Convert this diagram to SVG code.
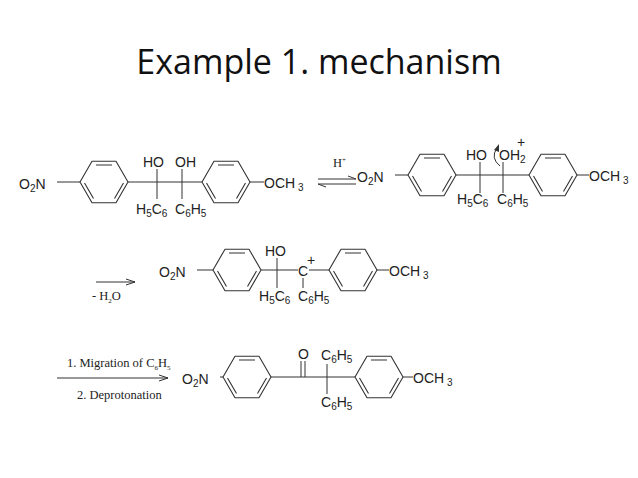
<svg xmlns="http://www.w3.org/2000/svg" xmlns:xlink="http://www.w3.org/1999/xlink" width="638" height="478" viewBox="0 0 638 478">
<style>
.b{stroke:#333;stroke-width:1;fill:none}
.t{font-family:"Liberation Sans",Arial,sans-serif;font-size:14px;fill:#222}
.s{font-size:10px}
.r{font-family:"Liberation Serif","Times New Roman",serif;font-size:12.5px;fill:#222}
</style>
<defs>
<path id="ring" fill="none" stroke="#333" stroke-width="1.1" stroke-linejoin="round" d="M-24,0 L-12,-20.8 L12,-20.8 L24,0 L12,20.8 L-12,20.8 Z M-8,-17 L8,-17 M19.5,1 L10.5,16.5 M-19.5,1 L-10.5,16.5"/>
<marker id="ah" markerWidth="10" markerHeight="8" refX="9" refY="4" orient="auto" markerUnits="userSpaceOnUse"><path d="M0,1 L9,4 L0,7" fill="none" stroke="#333"/></marker>
</defs>
<rect width="638" height="478" fill="#fff"/>
<text x="319" y="74" text-anchor="middle" font-family="'Open Sans',sans-serif" font-size="34" fill="#111">Example 1. mechanism</text>

<g id="mol1">
<text class="t" x="19" y="189">O<tspan class="s" dy="3">2</tspan><tspan dy="-3">N</tspan></text>
<line class="b" x1="57" y1="182" x2="80" y2="182"/>
<use xlink:href="#ring" x="104" y="182"/>
<line class="b" x1="128" y1="182" x2="202" y2="182"/>
<line class="b" x1="157" y1="169" x2="157" y2="199"/>
<line class="b" x1="182" y1="169" x2="182" y2="199"/>
<text class="t" x="143" y="167">HO</text>
<text class="t" x="175" y="167">OH</text>
<text class="t" x="136" y="214">H<tspan class="s" dy="3">5</tspan><tspan dy="-3">C</tspan><tspan class="s" dy="3">6</tspan></text>
<text class="t" x="175" y="214">C<tspan class="s" dy="3">6</tspan><tspan dy="-3">H</tspan><tspan class="s" dy="3">5</tspan></text>
<use xlink:href="#ring" x="226" y="182"/>
<line class="b" x1="250" y1="182" x2="264" y2="182"/>
<text class="t" x="264" y="188">OCH<tspan class="s" dy="3"> 3</tspan></text>
</g>

<g id="connectors">
<line class="b" x1="318" y1="179" x2="356" y2="179"/>
<line class="b" x1="318" y1="184" x2="356" y2="184"/>
<path class="b" d="M318,184 L326,187"/>
<path class="b" d="M356,179 L348,176"/>
<text class="r" x="333" y="167">H<tspan font-size="7" dy="-5">+</tspan></text>
<line class="b" x1="96" y1="282" x2="135" y2="282" marker-end="url(#ah)"/>
<text class="r" x="92" y="300">- H<tspan font-size="7" dy="3">2</tspan><tspan dy="-3">O</tspan></text>
<line class="b" x1="57" y1="378" x2="168" y2="378" marker-end="url(#ah)"/>
<text class="r" x="67" y="367">1. Migration of C<tspan font-size="7" dy="3">6</tspan><tspan dy="-3">H</tspan><tspan font-size="7" dy="3">5</tspan></text>
<text class="r" x="77" y="399">2. Deprotonation</text>
</g>

<g id="mol2">
<text class="t" x="357" y="182">O<tspan class="s" dy="3">2</tspan><tspan dy="-3">N</tspan></text>
<line class="b" x1="395" y1="175" x2="408" y2="175"/>
<use xlink:href="#ring" x="432" y="175"/>
<line class="b" x1="456" y1="175" x2="529" y2="175"/>
<line class="b" x1="480" y1="162" x2="480" y2="193"/>
<line class="b" x1="503" y1="162" x2="503" y2="193"/>
<text class="t" x="466" y="160">HO</text>
<text class="t" x="499" y="160">OH<tspan class="s" dy="3">2</tspan></text>
<text class="t" x="517" y="147" font-size="10">+</text>
<path class="b" d="M500,166 Q490,158 497,148"/>
<path d="M494,150 L499,144 L499,152 Z" fill="#333"/>
<text class="t" x="457" y="204">H<tspan class="s" dy="3">5</tspan><tspan dy="-3">C</tspan><tspan class="s" dy="3">6</tspan></text>
<text class="t" x="497" y="204">C<tspan class="s" dy="3">6</tspan><tspan dy="-3">H</tspan><tspan class="s" dy="3">5</tspan></text>
<use xlink:href="#ring" x="553" y="175"/>
<line class="b" x1="577" y1="175" x2="589" y2="175"/>
<text class="t" x="589" y="181">OCH<tspan class="s" dy="3"> 3</tspan></text>
</g>

<g id="mol3">
<text class="t" x="159" y="277">O<tspan class="s" dy="3">2</tspan><tspan dy="-3">N</tspan></text>
<line class="b" x1="197" y1="270" x2="213" y2="270"/>
<use xlink:href="#ring" x="237" y="270"/>
<line class="b" x1="261" y1="270" x2="298" y2="270"/>
<line class="b" x1="309" y1="270" x2="329" y2="270"/>
<line class="b" x1="277" y1="258" x2="277" y2="288"/>
<line class="b" x1="303" y1="278" x2="303" y2="288"/>
<text class="t" x="265" y="256">HO</text>
<text class="t" x="298" y="276">C</text>
<text class="t" x="307" y="265" font-size="10">+</text>
<text class="t" x="259" y="301">H<tspan class="s" dy="3">5</tspan><tspan dy="-3">C</tspan><tspan class="s" dy="3">6</tspan></text>
<text class="t" x="298" y="301">C<tspan class="s" dy="3">6</tspan><tspan dy="-3">H</tspan><tspan class="s" dy="3">5</tspan></text>
<use xlink:href="#ring" x="353" y="270"/>
<line class="b" x1="377" y1="270" x2="389" y2="270"/>
<text class="t" x="389" y="276">OCH<tspan class="s" dy="3"> 3</tspan></text>
</g>

<g id="mol4">
<text class="t" x="182" y="384">O<tspan class="s" dy="3">2</tspan><tspan dy="-3">N</tspan></text>
<line class="b" x1="220" y1="377" x2="223" y2="377"/>
<use xlink:href="#ring" x="247" y="377"/>
<line class="b" x1="271" y1="377" x2="355" y2="377"/>
<line class="b" x1="301" y1="377" x2="301" y2="361"/>
<line class="b" x1="305" y1="377" x2="305" y2="361"/>
<text class="t" x="298" y="359">O</text>
<line class="b" x1="327" y1="364" x2="327" y2="394"/>
<text class="t" x="321" y="360">C<tspan class="s" dy="3">6</tspan><tspan dy="-3">H</tspan><tspan class="s" dy="3">5</tspan></text>
<text class="t" x="321" y="407">C<tspan class="s" dy="3">6</tspan><tspan dy="-3">H</tspan><tspan class="s" dy="3">5</tspan></text>
<use xlink:href="#ring" x="379" y="377"/>
<line class="b" x1="403" y1="377" x2="413" y2="377"/>
<text class="t" x="413" y="383">OCH<tspan class="s" dy="3"> 3</tspan></text>
</g>
</svg>
